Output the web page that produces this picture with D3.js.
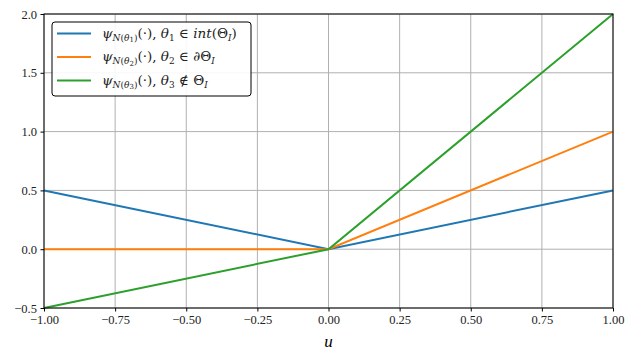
<!DOCTYPE html>
<html>
<head>
<meta charset="utf-8">
<style>
  body { margin: 0; background: #fff; }
  svg text { font-family: "Liberation Serif", "DejaVu Serif", serif; }
  .tick text { font-family: "Liberation Serif", serif; font-size: 12.5px; }
</style>
</head>
<body>
<svg id="chart" width="634" height="359"></svg>
<script src="https://d3js.org/d3.v7.min.js"></script>
<script>
// data
var uValues = [-1, 0, 1];
var psi1 = [0.5, 0, 0.5];
var psi2 = [0, 0, 1];
var psi3 = [-0.5, 0, 2];
var xTicks = [-1, -0.75, -0.5, -0.25, 0, 0.25, 0.5, 0.75, 1];
var yTicks = [-0.5, 0, 0.5, 1, 1.5, 2];
var seriesNames = ["1", "2", "3"];
var seriesColors = ["#1f77b4", "#ff7f0e", "#2ca02c"];
var legendTails = [
  [" \u2208 ", "int", "(\u0398", "I", ")"],
  [" \u2208 \u2202", "", "\u0398", "I", ""],
  [" \u2209 ", "", "\u0398", "I", ""]
];

var svg = d3.select("#chart");
var margin = {left: 44, right: 21, top: 14, bottom: 51};
var W = 634 - margin.left - margin.right,
    H = 359 - margin.top - margin.bottom;

var x = d3.scaleLinear().domain([-1, 1]).range([0, W]);
var y = d3.scaleLinear().domain([-0.5, 2]).range([H, 0]);

var g = svg.append("g").attr("transform", "translate(" + margin.left + "," + margin.top + ")");

// grid
g.append("g").selectAll("line").data(xTicks).enter().append("line")
  .attr("x1", d => x(d)).attr("x2", d => x(d)).attr("y1", 0).attr("y2", H)
  .attr("stroke", "#b0b0b0").attr("stroke-width", 1);
g.append("g").selectAll("line").data(yTicks).enter().append("line")
  .attr("y1", d => y(d)).attr("y2", d => y(d)).attr("x1", 0).attr("x2", W)
  .attr("stroke", "#b0b0b0").attr("stroke-width", 1);

// lines
var line = d3.line().x((d, i) => x(uValues[i])).y(d => y(d));
[psi1, psi2, psi3].forEach(function(s, k) {
  g.append("path").datum(s).attr("d", line)
    .attr("fill", "none").attr("stroke", seriesColors[k]).attr("stroke-width", 2);
});

// frame
g.append("rect").attr("width", W).attr("height", H)
  .attr("fill", "none").attr("stroke", "#000").attr("stroke-width", 1);

var fmtX = d => d3.format(".2f")(d).replace("-", "\u2212");
var fmtY = d => d3.format(".1f")(d).replace("-", "\u2212");

var xAxis = g.append("g").attr("transform", "translate(0," + H + ")")
  .call(d3.axisBottom(x).tickValues(xTicks).tickFormat(fmtX).tickSize(3.5).tickPadding(3.5));
var yAxis = g.append("g")
  .call(d3.axisLeft(y).tickValues(yTicks).tickFormat(fmtY).tickSize(3.5).tickPadding(3.5));
[xAxis, yAxis].forEach(function(a) {
  a.select(".domain").remove();
  a.selectAll("line").attr("stroke", "#000").attr("stroke-width", 1);
  a.selectAll("text").attr("fill", "#222")
    .style("font-size", "12.5px").style("font-family", "'Liberation Serif', serif");
});

// x label
svg.append("text").attr("x", margin.left + W / 2).attr("y", 347)
  .attr("text-anchor", "middle").style("font-size", "17px").attr("font-style", "italic").text("u");

// legend
var lg = svg.append("g").attr("transform", "translate(52,22)");
lg.append("rect").attr("width", 199).attr("height", 74).attr("rx", 3)
  .attr("fill", "#fff").attr("fill-opacity", 0.9).attr("stroke", "#000").attr("stroke-width", 1);
seriesNames.forEach(function(n, k) {
  var yy = 11.5 + k * 23.5;
  lg.append("line").attr("x1", 5).attr("x2", 39).attr("y1", yy).attr("y2", yy)
    .attr("stroke", seriesColors[k]).attr("stroke-width", 2);
  var t = lg.append("text").attr("x", 50).attr("y", yy + 4).attr("font-size", 13.5)
    .attr("fill", "#222").style("font-family", "'DejaVu Serif', serif");
  var tail = legendTails[k];
  t.append("tspan").attr("font-style", "italic").text("\u03c8");
  t.append("tspan").attr("font-size", 9).attr("dy", 3).attr("font-style", "italic").text("N");
  t.append("tspan").attr("font-size", 9).text("(");
  t.append("tspan").attr("font-size", 9).attr("font-style", "italic").text("\u03b8");
  t.append("tspan").attr("font-size", 7).attr("dy", 1.5).text(n);
  t.append("tspan").attr("font-size", 9).attr("dy", -1.5).text(")");
  t.append("tspan").attr("dy", -3).text("(\u00b7), ");
  t.append("tspan").attr("font-style", "italic").text("\u03b8");
  t.append("tspan").attr("font-size", 9).attr("dy", 3).text(n);
  t.append("tspan").attr("dy", -3).text(tail[0]);
  if (tail[1]) t.append("tspan").attr("font-style", "italic").text(tail[1]);
  t.append("tspan").text(tail[2]);
  t.append("tspan").attr("font-size", 9).attr("dy", 3).attr("font-style", "italic").text(tail[3]);
  t.append("tspan").attr("dy", -3).text(tail[4]);
});
</script>
</body>
</html>
